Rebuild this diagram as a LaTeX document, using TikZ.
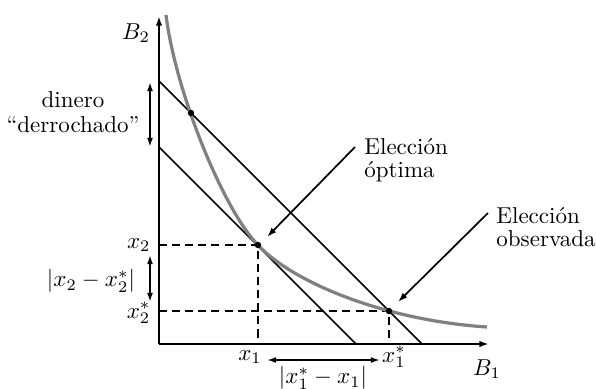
\documentclass[tikz,border=0pt]{standalone}
\usetikzlibrary{arrows.meta}
\begin{document}
\begin{tikzpicture}[x=0.435pt,y=-0.435pt,
  tip/.style={-{Latex[length=4.2pt,width=2.8pt]}},
  dtip/.style={{Latex[length=4pt,width=2.6pt]}-{Latex[length=4pt,width=2.6pt]}, line width=0.75pt},
  axisline/.style={line width=0.9pt, tip},
  budget/.style={line width=0.75pt},
  guide/.style={line width=0.75pt, dash pattern=on 3.5pt off 2.2pt},
  indiff/.style={line width=1.4pt, gray},
  lbl/.style={inner sep=0pt},
  pt/.style={circle, fill=black, inner sep=0pt, minimum size=2.8pt},
  pointer/.style={tip, line width=0.75pt}]
\useasboundingbox (0,0) rectangle (596,388);

% axes
\coordinate (O) at (159,344);
\coordinate (Ytop) at (159,16);
\coordinate (Xend) at (489,344);
\draw[axisline] (O) -- (Ytop);
\draw[axisline] (O) -- (Xend);

% budget lines
\coordinate (U1) at (159,81);
\coordinate (U2) at (422,344);
\coordinate (L1) at (159,147);
\coordinate (L2) at (356,344);
\draw[budget] (U1) -- (U2);
\draw[budget] (L1) -- (L2);

% key points
\coordinate (P0) at (191,113);
\coordinate (P1) at (258,245);
\coordinate (P2) at (389,311);
\coordinate (Y1) at (159,245);
\coordinate (X1) at (258,344);
\coordinate (Y2) at (159,311);
\coordinate (X2) at (389,344);

% dashed guides
\draw[guide] (Y1) -- (P1) -- (X1);
\draw[guide] (Y2) -- (P2) -- (X2);

% indifference curve
\coordinate (Cstart) at (166,15);
\coordinate (Cend) at (487,327);
\draw[indiff] (Cstart) .. controls (176,95) and (225,212) .. (P1)
  .. controls (290,280) and (380,320) .. (Cend);

% dots
\node[pt] (d0) at (P0) {};
\node[pt] (d1) at (P1) {};
\node[pt] (d2) at (P2) {};

% axis labels
\node[lbl] (B2) at (136,33) {$B_2$};
\node[lbl] (B1) at (487,369) {$B_1$};

% value labels
\node[lbl,anchor=east] (x2) at (151,245) {$x_2$};
\node[lbl,anchor=east] (x2s) at (151,313) {$x_2^*$};
\node[lbl] (x1) at (250,357) {$x_1$};
\node[lbl] (x1s) at (394,357) {$x_1^*$};
\node[lbl] (dx2) at (91,281) {$|x_2 - x_2^*|$};
\node[lbl] (dx1) at (323,378) {$|x_1^* - x_1|$};

% dinero derrochado
\node[lbl,align=center] (din) at (73,112) {dinero\\[-1pt]“derrochado”};
\coordinate (dA) at (150,82);
\coordinate (dB) at (150,147);
\draw[dtip] (dA) -- (dB);
\coordinate (eA) at (150,255);
\coordinate (eB) at (150,302);
\draw[dtip] (eA) -- (eB);
\coordinate (fA) at (267,360);
\coordinate (fB) at (380,360);
\draw[dtip] (fA) -- (fB);

% pointer labels
\node[lbl,align=left,anchor=west] (opt) at (364,160) {Elección\\[-2pt]óptima};
\node[lbl,align=left,anchor=west] (obs) at (496,227) {Elección\\[-2pt]observada};
\coordinate (optTail) at (355,147);
\coordinate (optHead) at (267,237);
\coordinate (obsTail) at (488,213);
\coordinate (obsHead) at (398,302);
\draw[pointer] (optTail) -- (optHead);
\draw[pointer] (obsTail) -- (obsHead);
\end{tikzpicture}
\end{document}
